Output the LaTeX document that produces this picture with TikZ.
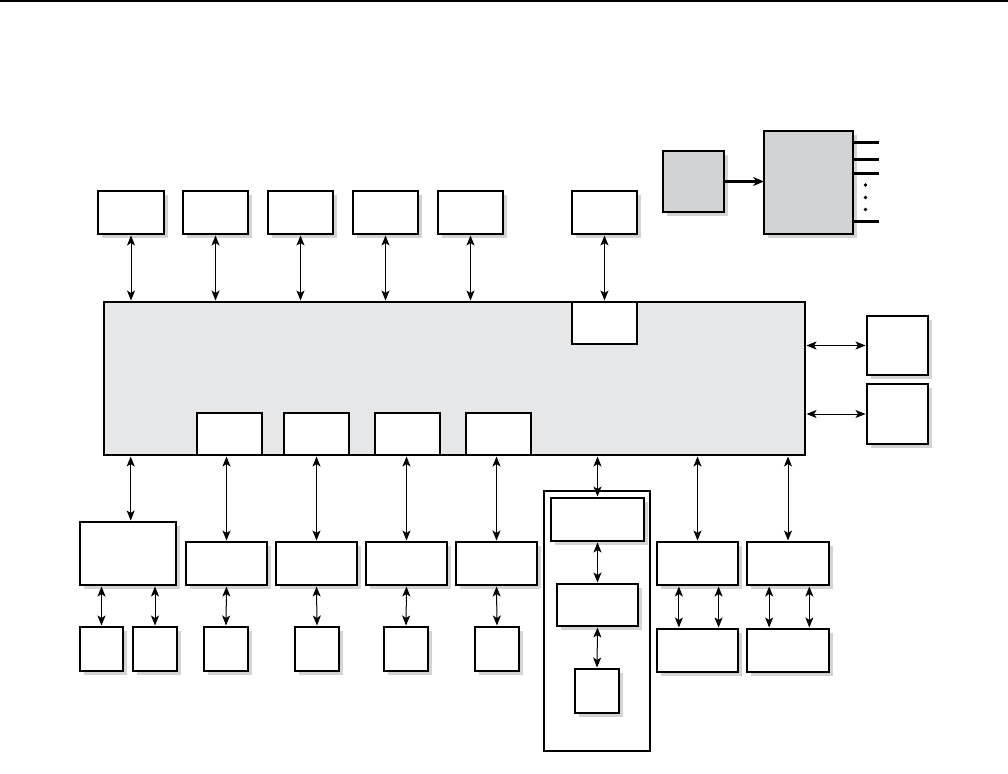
\documentclass[tikz,border=0pt]{standalone}
\usetikzlibrary{arrows.meta,shadows,calc}
\definecolor{mainfill}{RGB}{230,231,232}
\definecolor{boxgray}{RGB}{209,211,212}
\definecolor{shgray}{RGB}{212,212,212}
\tikzset{
  bx/.style={draw=black, line width=1.8pt, fill=white, inner sep=0pt, outer sep=0pt,
    drop shadow={shadow xshift=4pt, shadow yshift=-4pt, fill=shgray, opacity=1}},
  gbx/.style={bx, fill=boxgray},
  inbx/.style={draw=black, line width=1.5pt, fill=white, inner sep=0pt, outer sep=0pt},
  mainbx/.style={draw=black, line width=1.8pt, fill=mainfill, inner sep=0pt, outer sep=0pt},
  contbx/.style={draw=black, line width=1.3pt, inner sep=0pt, outer sep=0pt},
  arr/.style={line width=1pt, {Stealth[length=10pt,width=8pt,inset=2.5pt]}-{Stealth[length=10pt,width=8pt,inset=2.5pt]}, shorten >=1.5pt, shorten <=1.5pt},
  thick arr/.style={line width=3pt, -{Stealth[length=11pt,width=9pt]}},
  pin line/.style={line width=3pt}
}
\newcommand{\bx}[6]{\node[#6, minimum width={#4pt-#2pt}, minimum height={#5pt-#3pt}] (#1) at ({(#2+#4)/2},{(#3+#5)/2}) {};}
\begin{document}
\begin{tikzpicture}[x=1pt,y=-1pt]
\useasboundingbox (0,0) rectangle (1008,773);
\draw[line width=3pt] (0,1) -- (1008,1);
% top row
\bx{t1}{98}{191}{164}{234}{bx}
\bx{t2}{183}{191}{248}{234}{bx}
\bx{t3}{268}{191}{333}{234}{bx}
\bx{t4}{353}{191}{418}{234}{bx}
\bx{t5}{438}{191}{503}{234}{bx}
\bx{t6}{572}{191}{637}{234}{bx}
% gray boxes
\bx{g1}{663}{151}{724}{212}{gbx}
\bx{g2}{764}{131}{853}{234}{gbx}
% main block
\bx{main}{104}{302}{805}{455}{mainbx}
\bx{mi6}{572}{302}{637}{344}{inbx}
\bx{mi1}{197}{413}{262}{455}{inbx}
\bx{mi2}{284}{413}{349}{455}{inbx}
\bx{mi3}{375}{413}{440}{455}{inbx}
\bx{mi4}{466}{413}{531}{455}{inbx}
% right boxes
\bx{r1}{867}{316}{928}{375}{bx}
\bx{r2}{867}{384}{928}{444}{bx}
% bottom row
\bx{b1}{80}{522}{176}{585}{bx}
\bx{b2}{186}{542}{267}{585}{bx}
\bx{b3}{276}{542}{357}{585}{bx}
\bx{b4}{366}{542}{447}{585}{bx}
\bx{b5}{456}{542}{537}{585}{bx}
\bx{s1}{80}{627}{123}{671}{bx}
\bx{s2}{133}{627}{177}{671}{bx}
\bx{s3}{204}{627}{248}{671}{bx}
\bx{s4}{295}{627}{339}{671}{bx}
\bx{s5}{384}{627}{428}{671}{bx}
\bx{s6}{475}{627}{519}{671}{bx}
% container
\bx{cont}{544}{491}{650}{751}{contbx}
\bx{ca}{551}{498}{644}{541}{bx}
\bx{cb}{557}{584}{638}{626}{bx}
\bx{cc}{575}{669}{619}{713}{bx}
% right bottom
\bx{d1}{657}{542}{738}{585}{bx}
\bx{e1}{747}{542}{829}{585}{bx}
\bx{d2}{657}{629}{738}{672}{bx}
\bx{e2}{747}{629}{829}{672}{bx}
% top arrows
\foreach \n in {t1,t2,t3,t4,t5}{\draw[arr] (\n.south) -- (\n.south |- main.north);}
\draw[arr] (t6.south) -- (mi6.north);
% gray arrow and pins
\draw[thick arr] (g1.east) -- (g2.west |- g1.east);
\foreach \yy in {142,159,173,221}{\coordinate (p\yy) at (879,\yy); \draw[pin line] (g2.east |- p\yy) -- (p\yy);}
\foreach \yy in {185,197.5,209.5}{\fill (865.5,\yy) circle (1.8);}
% right arrows
\draw[arr] (r1.west -| main.east) -- (r1.west);
\draw[arr] (r2.west -| main.east) -- (r2.west);
% bottom arrows from main
\draw[arr] (main.south -| 130.7,0) -- (b1.north -| 130.7,0);
\foreach \n in {b2,b3,b4,b5,ca,d1,e1}{\draw[arr] (\n.north |- main.south) -- (\n.north);}
% second-level arrows
\draw[arr] (s1.north |- b1.south) -- (s1.north);
\draw[arr] (s2.north |- b1.south) -- (s2.north);
\draw[arr] (b2.south) -- (s3.north);
\draw[arr] (b3.south) -- (s4.north);
\draw[arr] (b4.south) -- (s5.north);
\draw[arr] (b5.south) -- (s6.north);
\draw[arr] (ca.south) -- (cb.north);
\draw[arr] (cb.south) -- (cc.north);
\draw[arr] ($(d1.south west)!0.27!(d1.south east)$) -- ($(d2.north west)!0.27!(d2.north east)$);
\draw[arr] ($(d1.south west)!0.76!(d1.south east)$) -- ($(d2.north west)!0.76!(d2.north east)$);
\draw[arr] ($(e1.south west)!0.27!(e1.south east)$) -- ($(e2.north west)!0.27!(e2.north east)$);
\draw[arr] ($(e1.south west)!0.76!(e1.south east)$) -- ($(e2.north west)!0.76!(e2.north east)$);
\end{tikzpicture}
\end{document}
